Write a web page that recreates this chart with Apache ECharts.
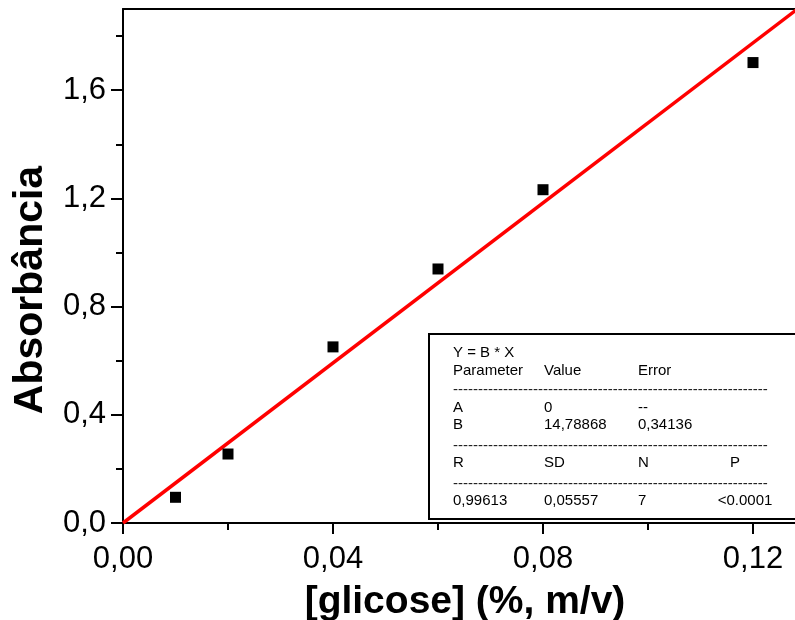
<!DOCTYPE html>
<html>
<head>
<meta charset="utf-8">
<script src="https://cdn.jsdelivr.net/npm/echarts@6/dist/echarts.min.js"></script>
<style>
  html, body { margin: 0; padding: 0; background: #fff; }
  #chart { width: 795px; height: 620px; }
</style>
</head>
<body>
<div id="chart"></div>
<script>
// measured points: glucose concentration (%, m/v) vs absorbance
const glucose = [0.01, 0.02, 0.04, 0.06, 0.08, 0.12];
const absorbance = [0.095, 0.255, 0.651, 0.939, 1.232, 1.702];

// linear fit through origin, Y = B * X
const fitSlope = 14.78868;
const fitRange = [0, 0.13];

const xMajorTicks = [0, 0.04, 0.08, 0.12];
const xMinorTicks = [0.02, 0.06, 0.1];
const yMajorTicks = [0, 0.4, 0.8, 1.2, 1.6];
const yMinorTicks = [0.2, 0.6, 1.0, 1.4, 1.8];

const statsTitle = "Y = B * X";
const statsTable = [
  ["Parameter", "Value", "Error", ""],
  ["A", "0", "--", ""],
  ["B", "14,78868", "0,34136", ""],
  ["R", "SD", "N", "P"],
  ["0,99613", "0,05557", "7", "<0.0001"],
];

const font = "'Liberation Sans', Arial, sans-serif";
const chart = echarts.init(document.getElementById("chart"));

const fitLine = fitRange.map((x) => [x, fitSlope * x]);
const comma = (digits) => (v) => v.toFixed(digits).replace(".", ",");

// stats box layout
const boxX = 429;
const boxY = 334;
const colX = [453, 544, 638, 735];
const rowY = [371, 408, 425, 463, 501];
const dashY = [390, 446, 484];

const statsGraphics = [
  {
    type: "text",
    x: 31,
    y: 290,
    rotation: Math.PI / 2,
    style: {
      text: "Absorbância",
      font: `bold 41px ${font}`,
      fill: "#000",
      textAlign: "center",
      verticalAlign: "middle",
    },
  },
  {
    type: "rect",
    shape: { x: boxX, y: boxY, width: 390, height: 185 },
    style: { fill: "#fff", stroke: "#000", lineWidth: 2 },
    z: 10,
  },
  {
    type: "text",
    x: colX[0],
    y: 353,
    style: { text: statsTitle, font: `15px ${font}`, fill: "#000", verticalAlign: "middle" },
    z: 11,
  },
];

statsTable.forEach((row, r) => {
  row.forEach((cell, c) => {
    if (!cell) {
      return;
    }
    const lastCol = c === 3;
    statsGraphics.push({
      type: "text",
      x: lastCol ? (r === 4 ? 745 : colX[3]) : colX[c],
      y: rowY[r],
      style: {
        text: cell,
        font: `15px ${font}`,
        fill: "#000",
        textAlign: lastCol ? "center" : "left",
        verticalAlign: "middle",
      },
      z: 11,
    });
  });
});

dashY.forEach((y) => {
  statsGraphics.push({
    type: "text",
    x: colX[0],
    y: y,
    style: { text: "-".repeat(63), font: `15px ${font}`, fill: "#222", verticalAlign: "middle" },
    z: 11,
  });
});

const axisBlack = { color: "#000", width: 2 };

chart.setOption({
  animation: false,
  grid: {
    left: 123,
    top: 9,
    right: 0,
    bottom: 97,
    outerBoundsMode: "none",
    containLabel: false,
  },
  xAxis: [
    {
      type: "value",
      min: 0,
      max: 0.128,
      interval: 0.02,
      axisLine: { onZero: false, lineStyle: axisBlack },
      axisTick: { customValues: xMajorTicks, length: 11, lineStyle: axisBlack },
      axisLabel: {
        customValues: xMajorTicks,
        formatter: comma(2),
        color: "#000",
        fontSize: 31,
        fontFamily: font,
        margin: 21,
      },
      splitLine: { show: false },
      name: "[glicose] (%, m/v)",
      nameLocation: "middle",
      nameGap: 60,
      nameTextStyle: {
        color: "#000",
        fontSize: 39,
        fontWeight: "bold",
        fontFamily: font,
        padding: [0, 0, 0, 12],
      },
    },
    {
      type: "value",
      position: "bottom",
      min: 0,
      max: 0.128,
      interval: 0.02,
      axisLine: { show: false, onZero: false },
      axisTick: { customValues: xMinorTicks, length: 7, lineStyle: axisBlack },
      axisLabel: { show: false },
      splitLine: { show: false },
    },
    {
      type: "value",
      position: "top",
      min: 0,
      max: 0.128,
      axisLine: { show: true, onZero: false, lineStyle: axisBlack },
      axisTick: { show: false },
      axisLabel: { show: false },
      splitLine: { show: false },
    },
  ],
  yAxis: [
    {
      type: "value",
      min: 0,
      max: 1.9,
      interval: 0.2,
      axisLine: { show: true, onZero: false, lineStyle: axisBlack },
      axisTick: { show: true, customValues: yMajorTicks, length: 12, lineStyle: axisBlack },
      axisLabel: {
        customValues: yMajorTicks,
        formatter: comma(1),
        color: "#000",
        fontSize: 31,
        fontFamily: font,
        margin: 17,
      },
      splitLine: { show: false },
    },
    {
      type: "value",
      position: "left",
      min: 0,
      max: 1.9,
      interval: 0.2,
      axisLine: { show: false, onZero: false },
      axisTick: { show: true, customValues: yMinorTicks, length: 7, lineStyle: axisBlack },
      axisLabel: { show: false },
      splitLine: { show: false },
    },
  ],
  series: [
    {
      name: "fit",
      type: "line",
      data: fitLine,
      symbol: "none",
      lineStyle: { color: "#ff0000", width: 3.5 },
      clip: true,
      z: 2,
    },
    {
      name: "data",
      type: "scatter",
      data: glucose.map((x, i) => [x, absorbance[i]]),
      symbol: "rect",
      symbolSize: 11,
      itemStyle: { color: "#000", opacity: 1 },
      z: 3,
    },
  ],
  graphic: statsGraphics,
});
</script>
</body>
</html>
